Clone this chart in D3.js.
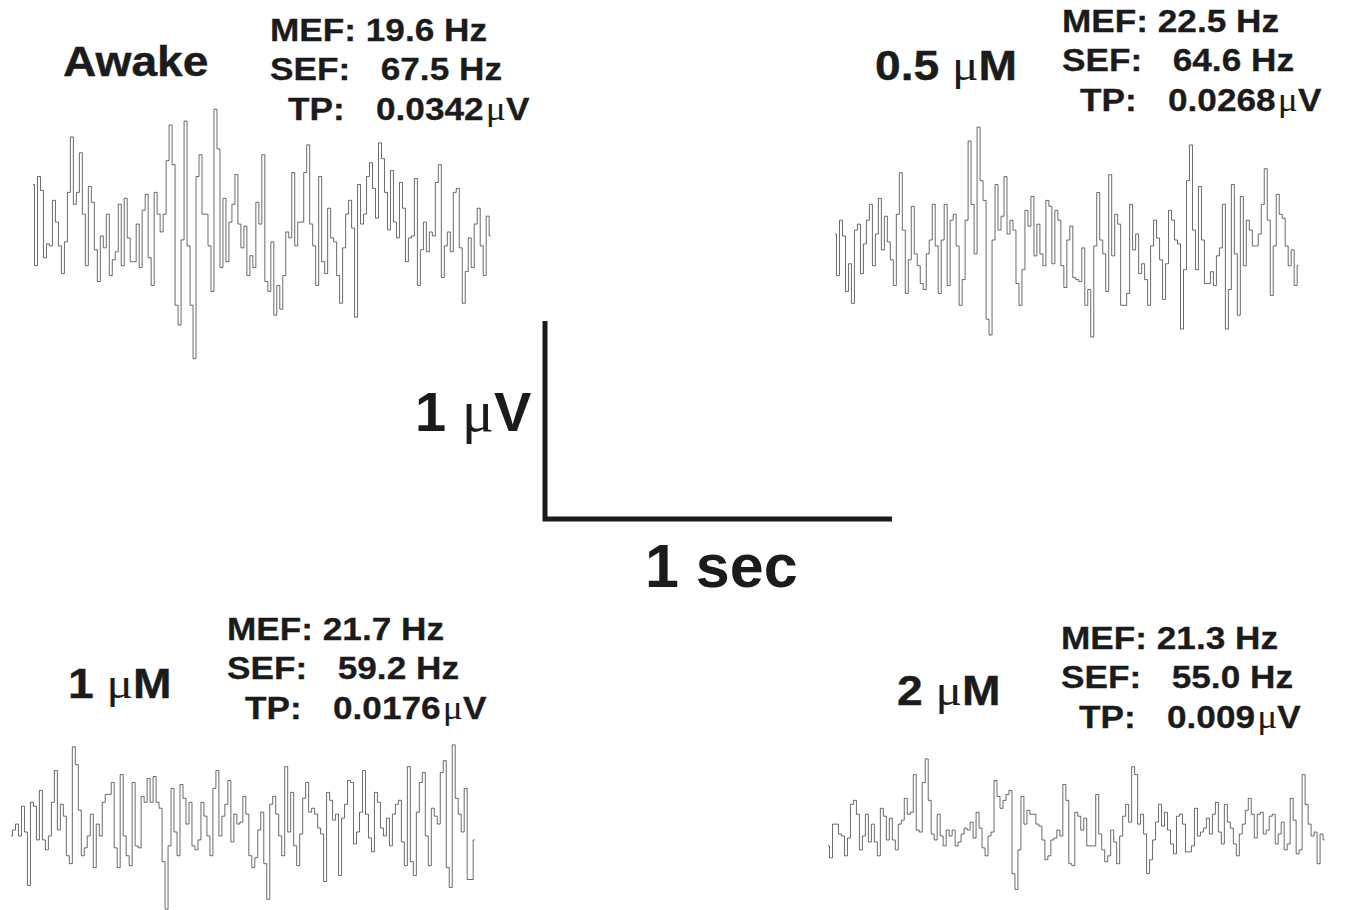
<!DOCTYPE html>
<html>
<head>
<meta charset="utf-8">
<script src="https://cdn.jsdelivr.net/npm/d3@7"></script>
<style>
  html, body { margin: 0; padding: 0; background: #ffffff; }
  svg { display: block; }
</style>
</head>
<body>
<svg id="fig" width="1345" height="910"></svg>
<script>
// Conditions and spectral summary per recording
const conditions = ["Awake", "0.5 \u00B5M", "1 \u00B5M", "2 \u00B5M"];
const mefHz = [19.6, 22.5, 21.7, 21.3];
const sefHz = [67.5, 64.6, 59.2, 55.0];
const tpMicroV = [0.0342, 0.0268, 0.0176, 0.009];

// Sampling rate of the displayed traces (Hz)
const sampleRate = 116;

// EEG samples in microvolts
const awake = [
  0.23,-0.18,0.27,0.20,-0.14,-0.07,-0.08,0.15,0.04,-0.08,
  -0.22,-0.06,0.19,0.47,0.13,0.19,0.39,0.08,-0.18,0.22,
  0.14,-0.10,-0.26,-0.03,-0.09,0.08,-0.23,-0.15,-0.11,0.13,
  -0.18,0.16,-0.04,-0.16,-0.16,0.03,-0.19,0.10,0.18,-0.14,
  -0.28,0.19,0.08,-0.01,0.08,0.35,0.53,0.33,-0.38,-0.48,
  -0.05,0.55,-0.08,-0.38,-0.65,0.27,0.38,0.08,0.08,-0.08,
  -0.31,0.61,0.41,-0.19,0.16,-0.16,0.04,0.13,0.28,0.03,
  -0.09,0.02,-0.23,-0.13,-0.19,0.14,0.03,0.38,-0.26,-0.31,
  -0.06,-0.43,-0.28,-0.40,-0.23,-0.01,-0.04,0.29,-0.08,0.04,
  0.04,0.29,0.43,0.03,-0.08,-0.28,0.27,-0.16,-0.22,0.11,
  -0.04,-0.06,-0.23,-0.37,-0.09,0.08,0.15,0.01,-0.44,0.23,
  0.03,0.08,0.27,0.34,0.21,0.06,0.44,0.36,0.19,0.00,
  0.30,0.04,-0.04,0.24,0.11,-0.16,-0.04,-0.03,0.26,-0.28,
  -0.10,0.04,-0.11,-0.01,-0.03,0.24,0.33,-0.24,-0.08,-0.01,
  -0.11,0.19,0.21,-0.09,-0.37,-0.21,-0.04,-0.19,0.03,0.11,
  -0.08,-0.23,0.07,-0.03
];
const halfMicroM = [
  0.03,-0.18,0.10,0.02,-0.26,-0.12,-0.32,0.05,0.08,-0.17,
  -0.02,0.10,0.18,-0.13,0.03,0.21,-0.05,0.12,-0.01,-0.10,
  -0.23,0.13,0.34,0.05,-0.27,-0.10,0.17,-0.07,-0.13,-0.22,
  -0.25,-0.07,0.00,0.18,-0.03,-0.27,0.00,0.18,-0.23,0.10,
  0.13,-0.03,-0.33,-0.20,0.10,0.50,0.18,-0.07,0.57,0.30,
  0.20,-0.40,-0.48,0.00,0.28,0.05,0.12,0.32,0.03,0.10,
  0.05,-0.22,-0.33,-0.15,0.15,0.07,0.22,-0.08,0.08,-0.07,
  -0.13,0.20,0.17,-0.12,0.15,0.10,-0.13,-0.24,0.00,0.07,
  -0.19,-0.20,-0.21,-0.04,-0.33,-0.25,-0.49,-0.03,0.24,0.00,
  -0.07,-0.26,0.33,-0.08,0.13,0.08,-0.33,-0.33,-0.27,0.18,
  -0.05,0.03,-0.17,-0.12,-0.20,-0.33,-0.03,0.10,0.01,-0.10,
  -0.30,-0.12,0.15,0.10,0.00,-0.02,-0.45,-0.15,0.30,0.48,
  0.05,-0.15,0.27,0.00,-0.22,-0.22,-0.16,-0.23,-0.08,-0.04,
  0.18,-0.45,-0.25,0.28,-0.07,-0.38,0.22,-0.13,0.10,0.05,
  -0.03,-0.03,0.03,0.18,0.36,0.10,-0.28,-0.03,0.23,0.13,
  0.11,-0.03,-0.13,-0.05,-0.23,-0.13
];
const oneMicroM = [
  -0.03,0.00,0.03,-0.03,0.12,-0.01,-0.28,0.14,0.12,-0.05,
  0.20,-0.05,-0.10,-0.03,0.14,0.30,0.00,0.13,0.07,-0.13,
  -0.17,0.42,0.33,0.10,-0.13,-0.09,-0.03,0.08,-0.19,0.03,
  -0.03,0.14,0.18,0.18,0.24,-0.09,-0.19,0.28,-0.03,-0.13,
  -0.18,0.24,-0.08,-0.09,0.17,0.14,0.26,0.14,0.27,0.14,
  0.11,-0.16,-0.40,-0.08,0.21,-0.01,-0.13,0.23,0.16,0.03,
  0.14,-0.08,-0.10,-0.05,0.14,0.07,-0.03,-0.13,0.21,0.30,
  -0.03,0.07,0.13,0.25,-0.06,0.08,0.03,0.04,0.17,0.08,
  -0.13,-0.19,-0.14,0.00,0.09,-0.17,-0.35,0.13,0.17,0.08,
  -0.03,-0.13,0.32,-0.01,0.19,-0.08,-0.18,-0.02,0.16,0.24,
  0.09,0.11,0.08,0.01,-0.02,-0.26,0.19,0.15,0.05,0.08,
  -0.23,0.06,0.13,0.25,0.24,-0.07,-0.01,0.09,0.30,0.08,
  -0.04,-0.11,0.19,0.14,0.01,-0.03,0.06,-0.08,0.08,0.13,
  0.15,-0.06,-0.18,0.32,-0.16,-0.23,0.09,0.24,0.29,-0.03,
  -0.18,0.11,0.07,0.03,0.29,0.35,-0.19,-0.29,0.43,0.16,
  0.08,-0.01,0.21,-0.25,-0.25,-0.05
];
const twoMicroM = [
  -0.04,-0.10,0.07,0.07,0.02,0.01,-0.09,0.00,0.17,0.19,
  0.12,-0.06,0.01,0.12,-0.02,0.07,-0.02,-0.09,0.15,0.11,
  -0.01,0.10,-0.01,-0.06,0.07,0.09,0.20,0.12,0.13,0.32,
  0.04,0.03,0.28,0.40,0.19,0.02,-0.01,0.12,0.01,-0.04,
  0.04,0.01,0.04,-0.04,-0.02,0.02,0.05,0.04,0.08,0.00,
  0.13,0.05,-0.05,-0.09,0.01,0.03,0.29,0.21,0.15,0.19,
  0.22,0.24,-0.18,-0.26,-0.06,0.21,0.07,0.14,0.12,0.12,
  0.07,0.06,-0.01,-0.11,-0.09,-0.01,0.00,0.04,0.01,0.27,
  0.19,-0.13,-0.14,0.13,0.11,0.04,0.10,-0.04,-0.04,-0.04,
  0.22,0.02,-0.06,-0.12,-0.09,0.04,-0.02,-0.13,0.01,0.11,
  0.17,0.08,0.36,0.32,0.07,0.12,0.02,-0.18,-0.11,-0.01,
  0.08,0.17,0.06,0.13,0.04,-0.03,-0.08,0.11,0.12,0.07,
  -0.07,-0.07,-0.04,0.15,0.01,0.03,0.05,0.10,0.02,0.12,
  0.18,0.03,-0.03,0.17,0.08,0.05,-0.03,-0.09,0.02,0.07,
  0.14,0.20,0.12,0.00,0.12,0.13,0.02,0.04,0.11,0.12,
  -0.03,0.02,0.08,-0.06,-0.03,0.20,0.09,-0.08,-0.06,0.32,
  0.17,0.07,0.01,0.03,-0.13,0.02,-0.01
];
const traces = [awake, halfMicroM, oneMicroM, twoMicroM];

// Calibration bar values
const barVolt = 1;   // µV
const barTime = 1;   // s

// ---- layout ----
const svg = d3.select("#fig");
const INK = "#1b1b1b";
const SANS = "'Liberation Sans', Arial, Helvetica, sans-serif";
const SERIF = "'Liberation Serif', 'Times New Roman', serif";

// shared scales: seconds -> px, µV -> px offset
const x = d3.scaleLinear().domain([0, 1]).range([0, 347]);
const y = d3.scaleLinear().domain([0, 1]).range([0, -198]);

// panel placement: trace origin, condition title, stats block (first baseline)
const panels = [
  { trace: [33, 230],  title: [63, 76],   stats: [270, 41]  },
  { trace: [835, 240], title: [875, 80],  stats: [1062, 32] },
  { trace: [11, 830],  title: [68, 698],  stats: [227, 640] },
  { trace: [828, 838], title: [897, 705], stats: [1061, 649] }
];

// sample-and-hold rendering: vertical transitions between held samples
const line = d3.line()
  .x((d, i) => x(i / sampleRate))
  .y(d => y(d))
  .curve(d3.curveStep);

panels.forEach((p, k) => {
  // trace
  svg.append("g")
    .attr("transform", `translate(${p.trace[0]},${p.trace[1]})`)
    .append("path")
    .datum(traces[k])
    .attr("d", line)
    .attr("fill", "none")
    .attr("stroke", "#2b2b2b")
    .attr("stroke-width", 0.7);

  // condition title, micro sign set in a serif face
  const tSx = 1.1;
  const title = svg.append("g")
    .attr("transform", `translate(${p.title[0]},${p.title[1]}) scale(${tSx},1)`)
    .append("text")
    .attr("font-family", SANS)
    .attr("font-weight", "bold")
    .attr("font-size", 42)
    .attr("fill", INK)
    .attr("stroke", INK)
    .attr("stroke-width", 0.4);
  const name = conditions[k];
  const mu = name.indexOf("\u00B5");
  if (mu < 0) {
    title.text(name);
  } else {
    title.append("tspan").text(name.slice(0, mu));
    title.append("tspan").attr("font-family", SERIF).attr("font-weight", "normal")
      .attr("stroke-width", 0).attr("font-size", 45).text("\u03BC");
    title.append("tspan").text(name.slice(mu + 1));
  }

  // stats block
  const sx = 1.1, fs = 32, gap = 39.5;
  const g = svg.append("g")
    .attr("transform", `translate(${p.stats[0]},${p.stats[1]}) scale(${sx},1)`)
    .attr("font-family", SANS)
    .attr("font-weight", "bold")
    .attr("font-size", fs)
    .attr("fill", INK)
    .attr("stroke", INK)
    .attr("stroke-width", 0.3);

  g.append("text").attr("x", 0).attr("y", 0)
    .text(`MEF: ${mefHz[k].toFixed(1)} Hz`);

  g.append("text").attr("x", 0).attr("y", gap).text("SEF:");
  g.append("text").attr("x", 232 / sx).attr("y", gap)
    .attr("text-anchor", "end")
    .text(`${sefHz[k].toFixed(1)} Hz`);

  g.append("text").attr("x", 18 / sx).attr("y", 2 * gap).text("TP:");
  const tp = g.append("text").attr("x", 106 / sx).attr("y", 2 * gap);
  tp.append("tspan").text(String(tpMicroV[k]));
  tp.append("tspan").attr("dx", 2).attr("font-family", SERIF)
    .attr("font-weight", "normal").attr("stroke-width", 0)
    .attr("font-size", 34).text("\u03BC");
  tp.append("tspan").text("V");
});

// calibration bar
const corner = [545, 519];
const bar = svg.append("g").attr("transform", `translate(${corner[0]},${corner[1]})`);
bar.append("path")
  .attr("d", `M0,${y(barVolt)}V0H${x(barTime)}`)
  .attr("fill", "none")
  .attr("stroke", INK)
  .attr("stroke-width", 5)
  .attr("stroke-linejoin", "miter");

const vLab = svg.append("text")
  .attr("x", 415).attr("y", 431)
  .attr("font-family", SANS).attr("font-weight", "bold")
  .attr("font-size", 56).attr("fill", INK);
vLab.append("tspan").text(`${barVolt} `);
vLab.append("tspan").attr("font-family", SERIF).attr("font-weight", "normal")
  .attr("font-size", 60).text("\u03BC");
vLab.append("tspan").text("V");

svg.append("text")
  .attr("x", 645).attr("y", 587)
  .attr("font-family", SANS).attr("font-weight", "bold")
  .attr("font-size", 61).attr("fill", INK)
  .text(`${barTime} sec`);
</script>
</body>
</html>
